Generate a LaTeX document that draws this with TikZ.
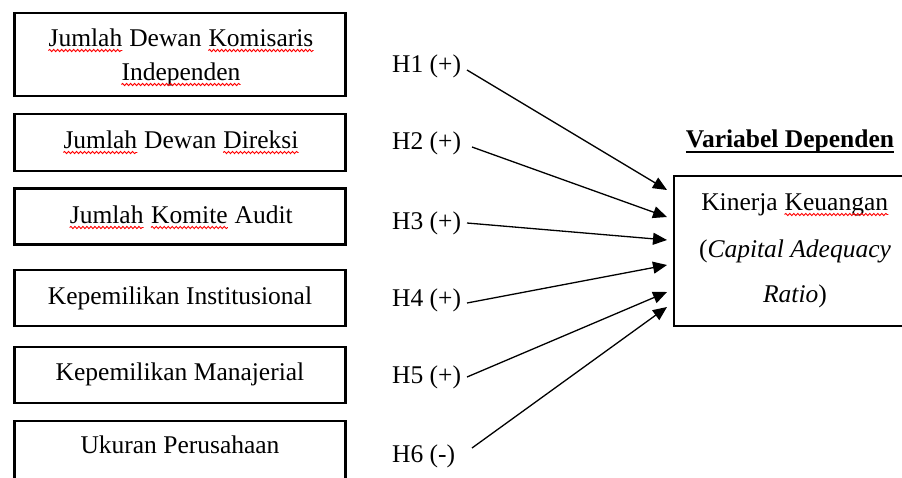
\documentclass[tikz,border=0pt]{standalone}
\usepackage{fontspec}
\setmainfont{Liberation Serif}
\usetikzlibrary{arrows.meta,decorations.pathmorphing}
\newcommand\sqw[1]{\tikz[baseline=0pt]{\node[inner sep=0pt,anchor=base] (sqn) at (0,0) {#1};\draw[red,line width=0.9pt,decorate,decoration={snake,amplitude=1.1pt,segment length=4pt}] ([yshift=-4.5pt]sqn.base west) -- ([yshift=-4.5pt]sqn.base east);}}
\begin{document}
\begin{tikzpicture}[x=1pt,y=-1pt,font=\fontsize{25.5}{34}\selectfont,
  box/.style={draw,line width=2.2pt,inner sep=0pt},
  txt/.style={inner sep=0pt,anchor=base},
  hlab/.style={inner sep=0pt,anchor=base west},
  arr/.style={line width=1.3pt,-{Triangle[length=14pt,width=12pt]}}]
\useasboundingbox (0,0) rectangle (902,477);
\clip (0,0) rectangle (902,477);
\fill[white] (0,0) rectangle (902,477);
% boxes
\node[box,minimum width=331pt,minimum height=83pt] (b1) at (180,54.5) {};
\node[box,minimum width=331pt,minimum height=57pt] (b2) at (180,142.5) {};
\node[box,minimum width=331pt,minimum height=56pt] (b3) at (180,216.5) {};
\node[box,minimum width=331pt,minimum height=56pt] (b4) at (180,298) {};
\node[box,minimum width=331pt,minimum height=56pt] (b5) at (180,375) {};
\node[box,minimum width=331pt,minimum height=58pt] (b6) at (180,450) {};
\node[box,minimum width=236pt,minimum height=150pt] (kk) at (792,251) {};
% box texts
\node[txt] (t1a) at (181,46) {\sqw{Jumlah} Dewan \sqw{Komisaris}};
\node[txt] (t1b) at (181,80) {\sqw{Independen}};
\node[txt] (t2) at (181,148) {\sqw{Jumlah} Dewan \sqw{Direksi}};
\node[txt] (t3) at (181,223) {\sqw{Jumlah} \sqw{Komite} Audit};
\node[txt] (t4) at (180,304) {Kepemilikan Institusional};
\node[txt] (t5) at (180,380) {Kepemilikan Manajerial};
\node[txt] (t6) at (180,453) {Ukuran Perusahaan};
% dependent
\node[txt,font=\fontsize{25.5}{34}\selectfont\bfseries] (title) at (790,147) {Variabel Dependen};
\draw[line width=1.8pt] ([yshift=-5pt]title.base west) -- ([yshift=-5pt]title.base east);
\node[txt] (k1) at (795,210) {Kinerja \sqw{Keuangan}};
\node[txt] (k2) at (795,257) {(\textit{Capital Adequacy}};
\node[txt] (k3) at (795,302) {\textit{Ratio})};
% hypothesis labels
\node[hlab] (h1) at (392,72) {H1 (+)};
\node[hlab] (h2) at (392,149) {H2 (+)};
\node[hlab] (h3) at (392,229) {H3 (+)};
\node[hlab] (h4) at (392,306) {H4 (+)};
\node[hlab] (h5) at (392,383) {H5 (+)};
\node[hlab] (h6) at (392,462) {H6 (-)};
% arrow ends
\coordinate (s1) at (467,70);  \coordinate (e1) at (667,190);
\coordinate (s2) at (472,147); \coordinate (e2) at (667,217);
\coordinate (s3) at (467,223); \coordinate (e3) at (667,240);
\coordinate (s4) at (467,303); \coordinate (e4) at (667,265);
\coordinate (s5) at (467,377); \coordinate (e5) at (667,292);
\coordinate (s6) at (472,448); \coordinate (e6) at (667,307);
\foreach \i in {1,...,6} {\draw[arr] (s\i) -- (e\i);}
\end{tikzpicture}
\end{document}
